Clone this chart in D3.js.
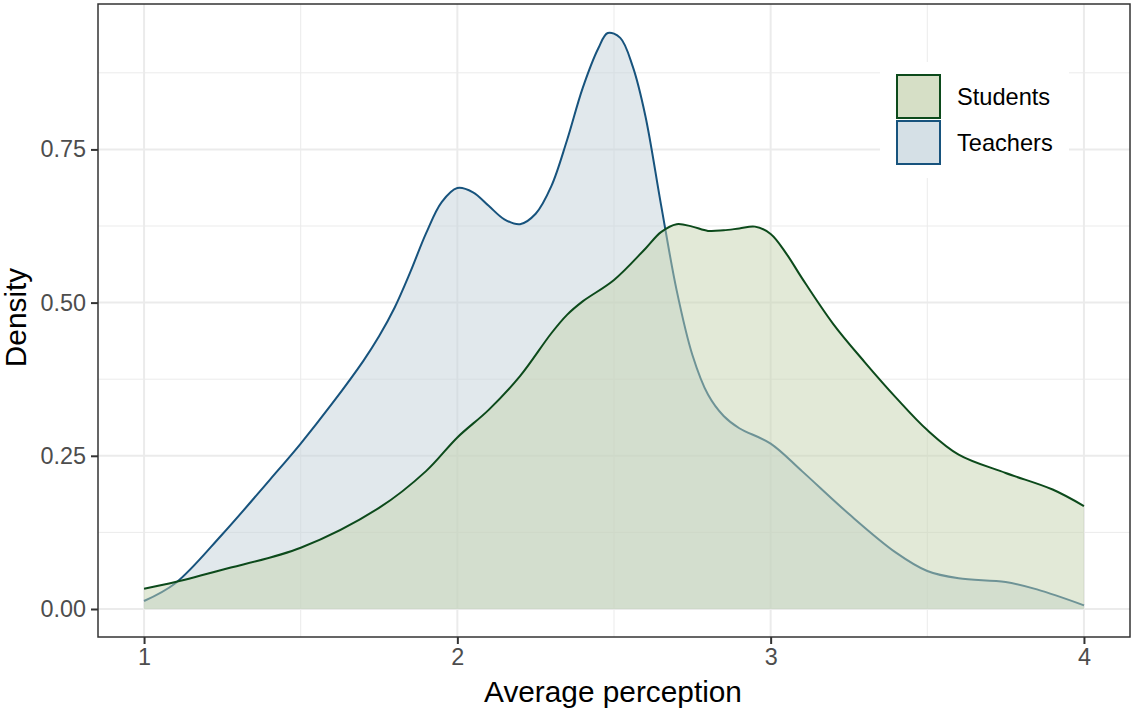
<!DOCTYPE html>
<html><head><meta charset="utf-8">
<script src="https://cdn.jsdelivr.net/npm/d3@7"></script>
<style>body{margin:0;background:#fff}svg{display:block}text{font-family:"Liberation Sans",Arial,sans-serif}</style>
</head><body>
<svg id="chart" width="1131" height="711"></svg>
<script>
// ---- data ----
const teachersX = [1,1.1,1.25,1.4,1.5,1.6,1.7,1.75,1.8,1.85,1.9,1.95,2,2.05,2.1,2.15,2.2,2.25,2.3,2.35,2.4,2.45,2.48,2.52,2.56,2.6,2.65,2.7,2.75,2.8,2.85,2.9,3,3.1,3.25,3.4,3.5,3.6,3.75,3.85,4];
const teachersY = [0.013,0.042,0.122,0.21,0.27,0.335,0.405,0.445,0.492,0.55,0.613,0.664,0.687,0.68,0.658,0.636,0.628,0.645,0.69,0.765,0.85,0.915,0.94,0.932,0.885,0.805,0.66,0.52,0.415,0.35,0.315,0.295,0.27,0.225,0.155,0.092,0.062,0.05,0.044,0.032,0.006];
const studentsX = [1,1.1,1.25,1.5,1.75,1.9,2,2.1,2.2,2.3,2.35,2.4,2.5,2.6,2.65,2.7,2.75,2.8,2.85,2.9,2.95,3,3.05,3.1,3.2,3.3,3.4,3.5,3.6,3.75,3.9,4];
const studentsY = [0.033,0.044,0.064,0.1,0.165,0.225,0.28,0.325,0.38,0.45,0.48,0.502,0.537,0.588,0.615,0.628,0.624,0.617,0.618,0.621,0.624,0.612,0.58,0.54,0.465,0.403,0.345,0.292,0.252,0.222,0.195,0.168];
const seriesNames = ["Students","Teachers"];
const xTicks = [1,2,3,4];
const yTicks = [0,0.25,0.5,0.75];
const yTickLabels = ["0.00","0.25","0.50","0.75"];

const svg = d3.select("#chart");
const L = 98, R = 1130, T = 4, B = 637;
const x = d3.scaleLinear().domain([0.853,4.147]).range([L,R]);
const y = d3.scaleLinear().domain([-0.0457,0.9873]).range([B,T]);

// grid
const g = svg.append("g");
const minorX = [1.5,2.5,3.5], minorY = [0.125,0.375,0.625,0.875];
g.selectAll(".mx").data(minorX).enter().append("line").attr("x1",d=>x(d)).attr("x2",d=>x(d)).attr("y1",T).attr("y2",B).attr("stroke","#ebebeb").attr("stroke-width",1);
g.selectAll(".my").data(minorY).enter().append("line").attr("y1",d=>y(d)).attr("y2",d=>y(d)).attr("x1",L).attr("x2",R).attr("stroke","#ebebeb").attr("stroke-width",1);
g.selectAll(".Mx").data(xTicks).enter().append("line").attr("x1",d=>x(d)).attr("x2",d=>x(d)).attr("y1",T).attr("y2",B).attr("stroke","#ebebeb").attr("stroke-width",2);
g.selectAll(".My").data(yTicks).enter().append("line").attr("y1",d=>y(d)).attr("y2",d=>y(d)).attr("x1",L).attr("x2",R).attr("stroke","#ebebeb").attr("stroke-width",2);

const curve = d3.curveCatmullRom.alpha(0.5);
function drawSeries(xs, vals, fill, stroke){
  const pts = xs.map((xv,i)=>[xv,vals[i]]);
  svg.append("path").datum(pts)
    .attr("d", d3.area().x(d=>x(d[0])).y0(y(0)).y1(d=>y(d[1])).curve(curve))
    .attr("fill", fill).attr("fill-opacity",0.5);
  svg.append("path").datum(pts)
    .attr("d", d3.line().x(d=>x(d[0])).y(d=>y(d[1])).curve(curve))
    .attr("fill","none").attr("stroke",stroke).attr("stroke-width",2);
}
const colTeach = {fill:"#c3d1d9", line:"#17537d"};
const colStud = {fill:"#c5d3af", line:"#0c4a1b"};
drawSeries(teachersX, teachersY, colTeach.fill, colTeach.line);
drawSeries(studentsX, studentsY, colStud.fill, colStud.line);

// legend
const lg = svg.append("g");
lg.append("rect").attr("x",880).attr("y",62).attr("width",189).attr("height",116).attr("fill","#fff");
const keys = [{n:seriesNames[0],f:"#d6dfc6",s:colStud.line},{n:seriesNames[1],f:"#d5e0e6",s:colTeach.line}];
keys.forEach((k,i)=>{
  lg.append("rect").attr("x",897).attr("y",75+i*46).attr("width",43).attr("height",43).attr("fill",k.f).attr("stroke",k.s).attr("stroke-width",2);
  lg.append("text").attr("x",957).attr("y",97+i*46).attr("dy","0.35em").attr("font-size",23.6).attr("fill","#000").text(k.n);
});

// panel border
svg.append("rect").attr("x",L).attr("y",T).attr("width",R-L).attr("height",B-T).attr("fill","none").attr("stroke","#333").attr("stroke-width",1.5);

// axes
const xAxis = d3.axisBottom(x).tickValues(xTicks).tickSize(7).tickPadding(4).tickFormat(d3.format("d"));
const ax = svg.append("g").attr("transform",`translate(0,${B})`).call(xAxis);
ax.select(".domain").remove();
ax.selectAll("line").attr("stroke","#333").attr("stroke-width",2);
ax.selectAll("text").attr("font-size",23.4).attr("fill","#4d4d4d").attr("font-family","Liberation Sans, Arial, sans-serif");
const yAxis = d3.axisLeft(y).tickValues(yTicks).tickSize(7).tickPadding(5).tickFormat((d,i)=>yTickLabels[i]);
const ay = svg.append("g").attr("transform",`translate(${L},0)`).call(yAxis);
ay.select(".domain").remove();
ay.selectAll("line").attr("stroke","#333").attr("stroke-width",2);
ay.selectAll("text").attr("font-size",23.4).attr("fill","#4d4d4d").attr("font-family","Liberation Sans, Arial, sans-serif");

svg.append("text").attr("x",(L+R)/2-1).attr("y",702).attr("text-anchor","middle").attr("font-size",29.8).attr("fill","#000").text("Average perception");
svg.append("text").attr("transform",`translate(26,${(T+B)/2-3}) rotate(-90)`).attr("text-anchor","middle").attr("font-size",29.8).attr("fill","#000").text("Density");
</script>
</body></html>
